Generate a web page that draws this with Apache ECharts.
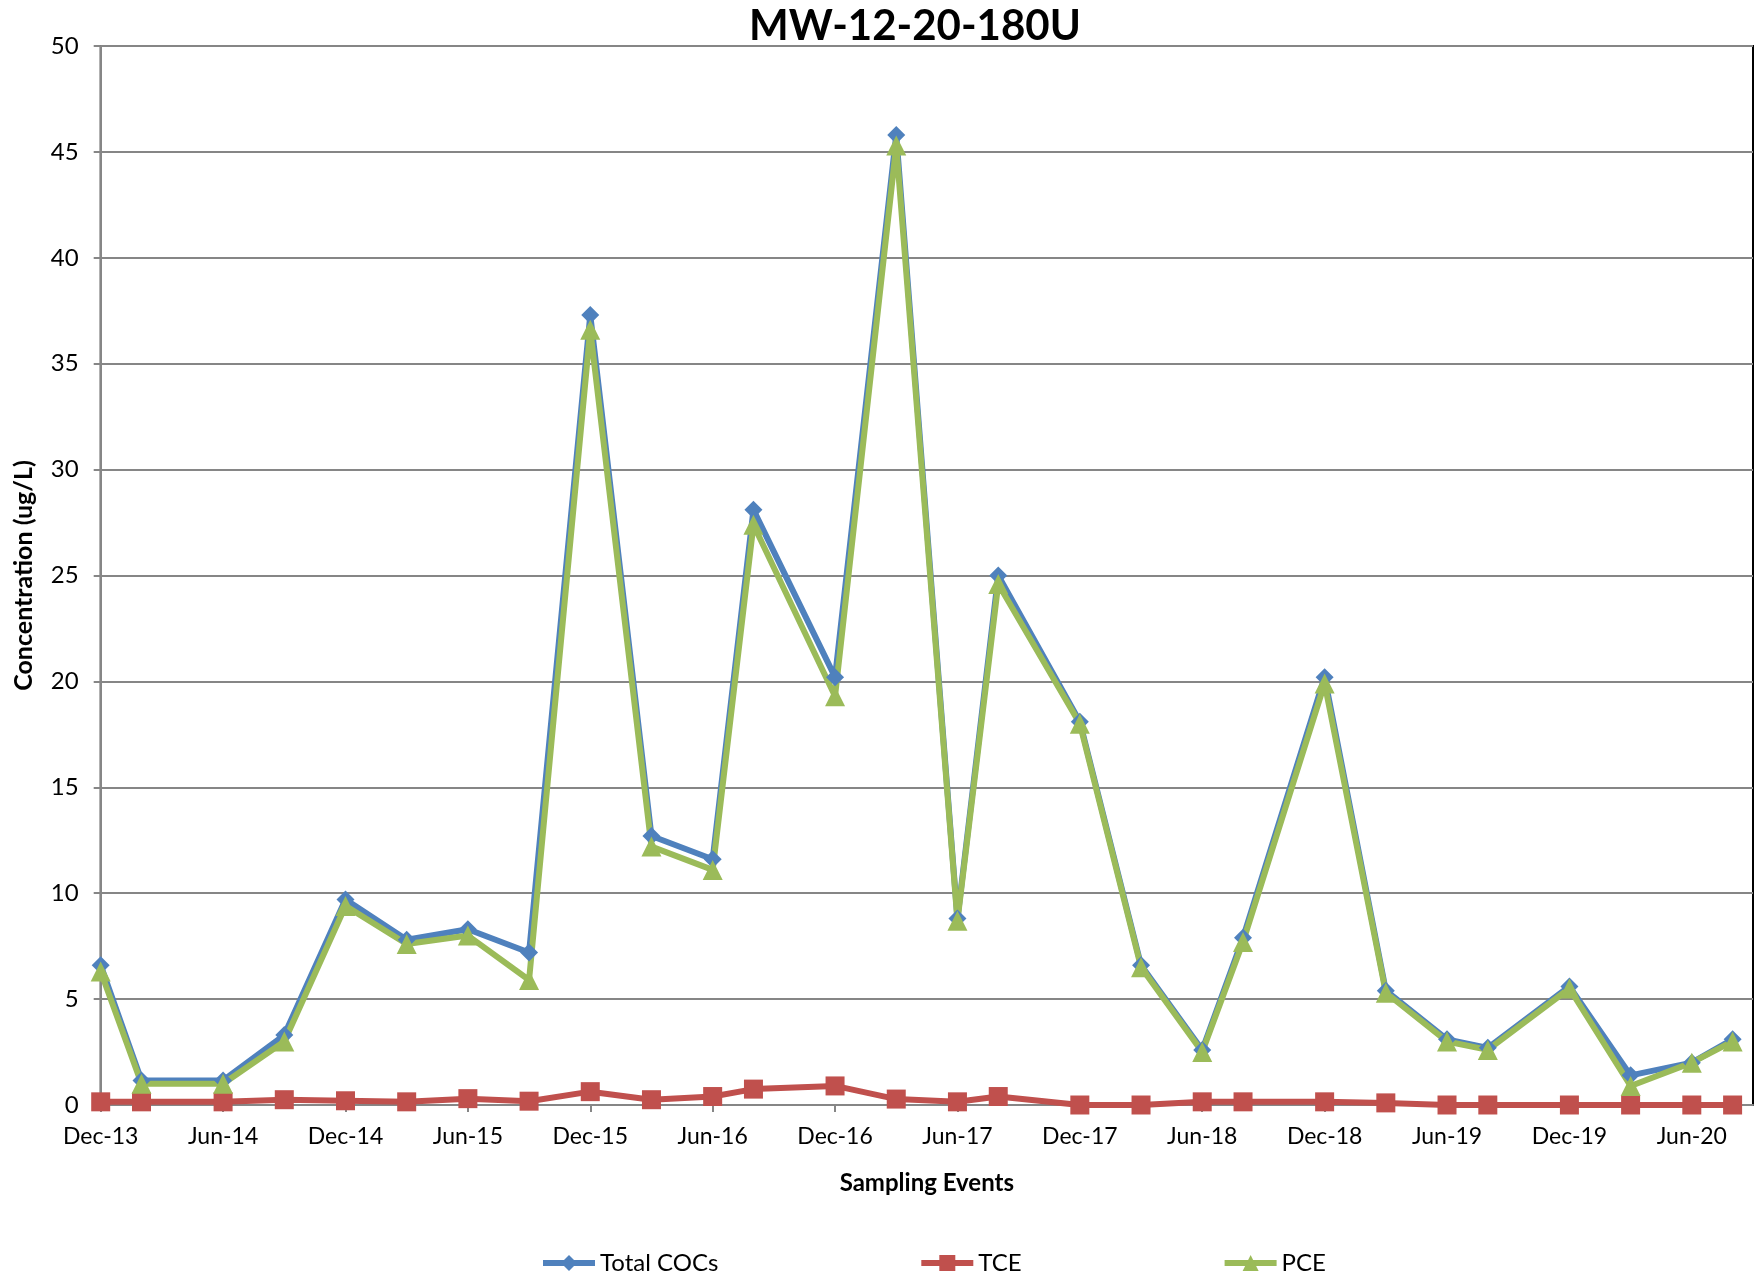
<!DOCTYPE html>
<html>
<head>
<meta charset="utf-8">
<script src="https://cdn.jsdelivr.net/npm/echarts@6/dist/echarts.min.js"></script>
<style>
html,body{margin:0;padding:0;background:#fff;}
#chart{width:1755px;height:1274px;}
</style>
</head>
<body>
<div id="chart"></div>
<script>
// Sampling event dates (year-month)
var samplingDates = ['2013-12','2014-02','2014-06','2014-09','2014-12','2015-03','2015-06','2015-09',
  '2015-12','2016-03','2016-06','2016-08','2016-12','2017-03','2017-06','2017-08',
  '2017-12','2018-03','2018-06','2018-08','2018-12','2019-03','2019-06','2019-08',
  '2019-12','2020-03','2020-06','2020-08'];
var totalCOCs = [6.6,1.16,1.16,3.3,9.7,7.8,8.3,7.2,37.3,12.7,11.6,28.1,20.2,45.8,8.8,25.0,
  18.1,6.6,2.6,7.9,20.2,5.4,3.1,2.7,5.6,1.4,2.0,3.1];
var tce = [0.15,0.15,0.15,0.25,0.2,0.15,0.3,0.18,0.63,0.25,0.4,0.75,0.9,0.28,0.15,0.4,
  0,0,0.15,0.15,0.15,0.1,0,0,0,0,0,0];
var pce = [6.3,1.0,1.0,3.0,9.4,7.6,8.0,5.9,36.6,12.2,11.1,27.4,19.3,45.3,8.7,24.6,
  18.0,6.5,2.5,7.7,19.9,5.3,3.0,2.6,5.5,0.9,2.0,3.0];
var tickLabels = ['Dec-13','Jun-14','Dec-14','Jun-15','Dec-15','Jun-16','Dec-16','Jun-17',
  'Dec-17','Jun-18','Dec-18','Jun-19','Dec-19','Jun-20'];
var axisStart = '2013-12';
var axisEnd = '2020-09';

function monthIndex(s){
  var p = s.split('-'); var b = axisStart.split('-');
  return (parseInt(p[0])-parseInt(b[0]))*12 + parseInt(p[1]) - parseInt(b[1]);
}
function pairs(vals){ return samplingDates.map(function(d,i){ return [monthIndex(d), vals[i]]; }); }

var FONT = 'Lato, "Open Sans", sans-serif';
var chart = echarts.init(document.getElementById('chart'));
chart.setOption({
  backgroundColor: '#fff',
  animation: false,
  title: {
    text: 'MW-12-20-180U', left: 910, top: 0, textAlign: 'center',
    textStyle: { fontFamily: FONT, fontWeight: 'bold', fontSize: 42, color: '#000' }
  },
  grid: { left: 100.7, right: 2, top: 46, bottom: 169, show: true, borderColor: '#000', borderWidth: 2 },
  xAxis: {
    type: 'value', min: 0, max: monthIndex(axisEnd), interval: 6,
    name: 'Sampling Events', nameLocation: 'middle', nameGap: 66,
    nameTextStyle: { fontFamily: FONT, fontWeight: 'bold', fontSize: 24, color: '#000' },
    axisLine: { show: true, lineStyle: { color: '#868686', width: 2 } },
    axisTick: { show: true, length: 7, lineStyle: { color: '#868686', width: 2 } },
    splitLine: { show: false },
    axisLabel: {
      fontFamily: FONT, fontSize: 23, color: '#000', margin: 20, showMaxLabel: false,
      formatter: function(v){ return (v % 6 === 0) ? (tickLabels[v/6] || '') : ''; }
    }
  },
  yAxis: {
    type: 'value', min: 0, max: 50, interval: 5,
    name: 'Concentration (ug/L)', nameLocation: 'middle', nameGap: 64, nameRotate: 90,
    nameTextStyle: { fontFamily: FONT, fontWeight: 'bold', fontSize: 25, color: '#000' },
    axisLine: { show: true, lineStyle: { color: '#868686', width: 2 } },
    axisTick: { show: true, length: 7, lineStyle: { color: '#868686', width: 2 } },
    splitLine: { show: true, lineStyle: { color: '#868686', width: 2 } },
    axisLabel: { fontFamily: FONT, fontSize: 24, color: '#000', margin: 22 }
  },
  legend: {
    left: 535, top: 1246, itemGap: 200, itemWidth: 52, itemHeight: 20,
    textStyle: { fontFamily: FONT, fontSize: 24, color: '#000' },
    lineStyle: { width: 6 },
    data: ['Total COCs','TCE','PCE']
  },
  series: [
    { name: 'Total COCs', type: 'line', data: pairs(totalCOCs), symbol: 'diamond', symbolSize: 18,
      itemStyle: { color: '#4F81BD' }, lineStyle: { color: '#4F81BD', width: 6 } },
    { name: 'TCE', type: 'line', data: pairs(tce), symbol: 'rect', symbolSize: 19,
      itemStyle: { color: '#C0504D' }, lineStyle: { color: '#C0504D', width: 6 } },
    { name: 'PCE', type: 'line', data: pairs(pce), symbol: 'triangle', symbolSize: 20,
      itemStyle: { color: '#9BBB59' }, lineStyle: { color: '#9BBB59', width: 6 } }
  ]
});
</script>
</body>
</html>
